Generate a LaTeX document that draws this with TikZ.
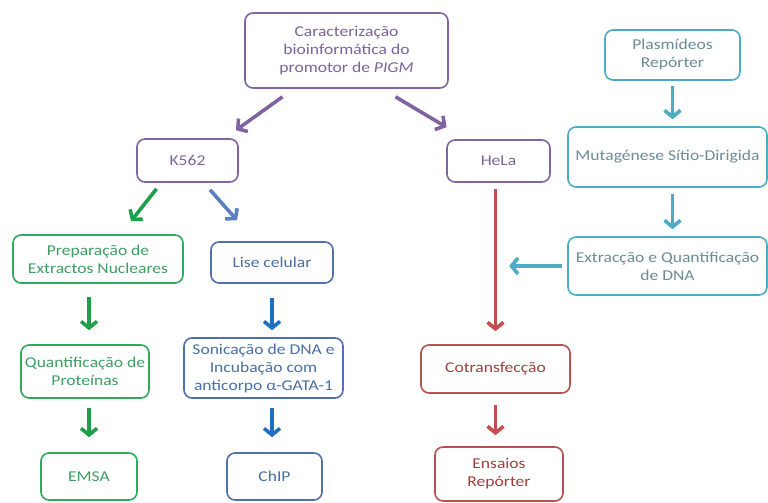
\documentclass[tikz,border=0pt]{standalone}
\usepackage{fontspec}
\setmainfont{Carlito}[FakeStretch=1.17]
\usetikzlibrary{arrows.meta,calc}
\definecolor{purp}{HTML}{8064A2}
\definecolor{purptxt}{HTML}{7A659A}
\definecolor{grn}{HTML}{2EAA5C}
\definecolor{grntxt}{HTML}{3E9E62}
\definecolor{grnarr}{HTML}{1EA04A}
\definecolor{blu}{HTML}{4F70AE}
\definecolor{blutxt}{HTML}{4A6EA6}
\definecolor{bluarrA}{HTML}{5B7FBF}
\definecolor{bluarrB}{HTML}{1F6FC2}
\definecolor{rd}{HTML}{B5524F}
\definecolor{rdtxt}{HTML}{A33E3E}
\definecolor{rdarr}{HTML}{C0504D}
\definecolor{tl}{HTML}{4BACC6}
\definecolor{tltxt}{HTML}{6A8C97}
\tikzset{
  box/.style={draw, rounded corners=8pt, line width=1.6pt, align=center,
    font=\fontsize{15}{18}\selectfont, inner sep=2pt, fill=white},
  pbox/.style={box, draw=purp, text=purptxt},
  gbox/.style={box, draw=grn, text=grntxt},
  bbox/.style={box, draw=blu, text=blutxt},
  rbox/.style={box, draw=rd, text=rdtxt},
  tbox/.style={box, draw=tl, text=tltxt},
  arr/.style={line width=3.6pt, -{Straight Barb[length=6.5pt,width=16pt,line width=3.6pt]}},
}
\begin{document}
\begin{tikzpicture}[x=1pt,y=-1pt]
\useasboundingbox (0,0) rectangle (768,503);
% nodes
\node[pbox, minimum width=203pt, minimum height=75pt] (top) at (346.5,50.5)
  {Caracterização\\bioinformática do\\promotor de \textit{PIGM}};
\node[pbox, minimum width=101pt, minimum height=43pt] (k562) at (187.5,160.5) {K562};
\node[pbox, minimum width=103pt, minimum height=42pt] (hela) at (498.5,161) {HeLa};
\node[tbox, minimum width=135pt, minimum height=50pt] (plas) at (672.5,55) {Plasmídeos\\Repórter};
\node[tbox, minimum width=199pt, minimum height=60pt] (muta) at (667.5,157) {Mutagénese Sítio-Dirigida};
\node[tbox, minimum width=199pt, minimum height=58pt] (extr) at (667.5,266) {Extracção e Quantificação\\de DNA};
\node[gbox, minimum width=170pt, minimum height=48pt] (prep) at (98,259) {Preparação de\\Extractos Nucleares};
\node[bbox, minimum width=122pt, minimum height=41pt] (lise) at (272,262.5) {Lise celular};
\node[gbox, minimum width=128pt, minimum height=53pt] (quant) at (85,371.5) {Quantificação de\\Proteínas};
\node[bbox, minimum width=159pt, minimum height=60pt] (soni) at (263.5,368) {Sonicação de DNA e\\Incubação com\\anticorpo α-GATA-1};
\node[gbox, minimum width=96pt, minimum height=47pt] (emsa) at (89,476.5) {EMSA};
\node[bbox, minimum width=95pt, minimum height=47pt] (chip) at (274.5,476.5) {ChIP};
\node[rbox, minimum width=149pt, minimum height=48pt] (cotr) at (495.5,369) {Cotransfecção};
\node[rbox, minimum width=128pt, minimum height=54pt] (ensa) at (499,474) {Ensaios\\Repórter};
% arrows
\draw[arr, purp] ($(top.south)+(-64,8)$) -- ($(k562.north)+(48.5,-8)$);
\draw[arr, purp] ($(top.south)+(49,8)$) -- ($(hela.north)+(-52,-12)$);
\draw[arr, grnarr] ($(k562.south)+(-31,6)$) -- ($(prep.north)+(33,-13)$);
\draw[arr, bluarrA] ($(k562.south)+(22.5,7)$) -- ($(lise.north)+(-35,-21)$);
\draw[arr, grnarr] ($(prep.south -| emsa.north)+(0,13)$) -- ($(quant.north -| emsa.north)+(0,-14)$);
\draw[arr, grnarr] ($(quant.south -| emsa.north)+(0,9)$) -- (emsa.north) [shorten >=15pt];
\draw[arr, bluarrB] ($(lise.south)+(0,14)$) -- ($(soni.north -| lise.south)+(0,-7)$);
\draw[arr, bluarrB] ($(soni.south -| lise.south)+(0,9)$) -- ($(chip.north -| lise.south)+(0,-15)$);
\draw[arr, rdarr] ($(hela.south -| cotr.north)+(0,6)$) -- ($(cotr.north)+(0,-13)$);
\draw[arr, rdarr] ($(cotr.south)+(0,11)$) -- ($(ensa.north -| cotr.south)+(0,-11)$);
\draw[arr, tl] ($(plas.south)+(0,5)$) -- ($(muta.north -| plas.south)+(0,-7)$);
\draw[arr, tl] ($(muta.south -| plas.south)+(0,6)$) -- ($(extr.north -| plas.south)+(0,-7)$);
\coordinate (redline) at ($(extr.west)+(-58,0)$);
\draw[arr, tl] ($(extr.west)+(-5,0)$) -- (redline);
\end{tikzpicture}
\end{document}
